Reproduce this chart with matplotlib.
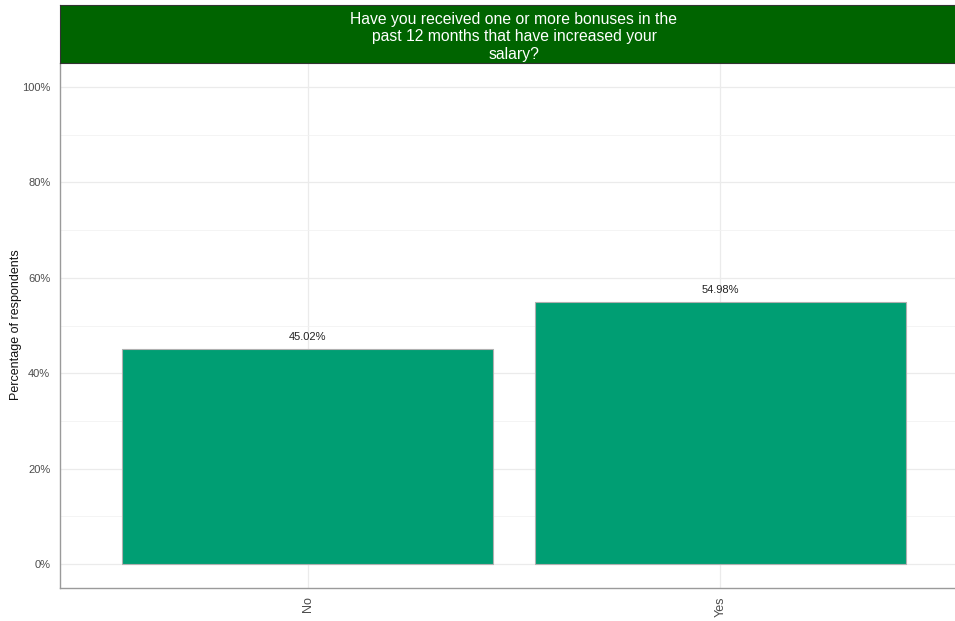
import matplotlib.pyplot as plt
from matplotlib.ticker import MultipleLocator, FuncFormatter

plt.rcParams["font.family"] = ["Liberation Sans", "DejaVu Sans"]

# data
categories = ["No", "Yes"]
percentages = [45.02, 54.98]
title_text = "Have you received one or more bonuses in the\npast 12 months that have increased your\nsalary?"

W, H = 955, 621
fig = plt.figure(figsize=(W / 100, H / 100), dpi=100)

left, right = 60, 968
top, bottom = 63, 588
ax = fig.add_axes([left / W, (H - bottom) / H, (right - left) / W, (bottom - top) / H])

x = list(range(1, len(categories) + 1))
ax.bar(x, percentages, width=0.9, color="#009E73", edgecolor="#B0B0B0", linewidth=0.8, zorder=3)
for xi, v in zip(x, percentages):
    ax.annotate(f"{v:.2f}%", (xi, v), xytext=(0, 5), textcoords="offset points",
                ha="center", va="bottom", fontsize=8, color="#222222", zorder=4)

ax.set_xlim(0.4, 2.6)
ax.set_ylim(-5, 105)
ax.set_xticks(x)
ax.set_xticklabels(categories, rotation=90, fontsize=9, color="#4D4D4D")
ax.yaxis.set_major_locator(MultipleLocator(20))
ax.yaxis.set_minor_locator(MultipleLocator(10))
ax.yaxis.set_major_formatter(FuncFormatter(lambda v, p: f"{v:.0f}%"))
ax.tick_params(axis="y", labelsize=8, labelcolor="#4D4D4D", length=0, pad=7)
ax.tick_params(axis="x", length=0, pad=6)
ax.tick_params(which="minor", length=0)
ax.grid(True, which="major", color="#EBEBEB", linewidth=0.9, zorder=0)
ax.grid(True, which="minor", axis="y", color="#F2F2F2", linewidth=0.6, zorder=0)
ax.set_axisbelow(True)
for s in ["top", "right"]:
    ax.spines[s].set_visible(False)
for s in ["left", "bottom"]:
    ax.spines[s].set_color("#9A9A9A")
    ax.spines[s].set_linewidth(1.0)

fig.text(16 / W, 1 - 325 / H, "Percentage of respondents", rotation=90,
         ha="center", va="center", fontsize=9, color="#111111")

# strip header
strip_top = 5
sax = fig.add_axes([left / W, (H - top) / H, (right - left) / W, (top - strip_top) / H])
sax.set_facecolor("#006400")
sax.set_xticks([])
sax.set_yticks([])
for s in sax.spines.values():
    s.set_color("#333333")
    s.set_linewidth(0.8)
sax.text(0.5, 0.45, title_text, ha="center", va="center", color="white",
         fontsize=11.3, linespacing=1.2, transform=sax.transAxes)

fig.savefig("out.png", dpi=100)
